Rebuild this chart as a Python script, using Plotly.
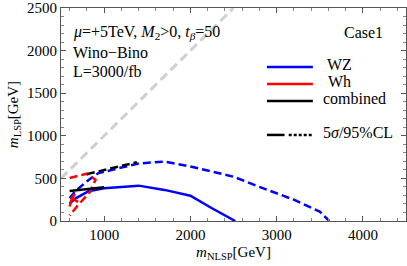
import plotly.graph_objects as go

# ---- data (m_NLSP, m_LSP in GeV) ----
diag_x = [500, 2500]
diag_y = [500, 2500]

wz_5s_x = [600, 660, 820, 1000, 1200, 1400, 1700, 2000, 2250, 2520]
wz_5s_y = [205, 260, 350, 385, 400, 415, 365, 296, 150, 0]

wz_95_x = [600, 660, 820, 930, 1200, 1400, 1700, 2000, 2500, 2800, 3200, 3500, 3610]
wz_95_y = [267, 345, 482, 560, 627, 675, 698, 640, 520, 400, 250, 110, 0]

wh_5s_x = [600, 625, 660, 625, 660, 700]
wh_5s_y = [170, 260, 320, 270, 245, 225]

wh_95_x = [600, 800, 900, 840, 700, 600]
wh_95_y = [505, 555, 485, 345, 190, 65]

comb_5s_x = [600, 1000]
comb_5s_y = [353, 396]

comb_95_x = [800, 1380]
comb_95_y = [550, 690]

x_ticks = [1000, 2000, 3000, 4000]
y_ticks = [0, 500, 1000, 1500, 2000, 2500]

BLUE = "#0000ff"
RED = "#ff0000"
BLACK = "#000000"
DASH = "8px,4px"
FONT = "Liberation Serif, Times New Roman, serif"

fig = go.Figure()
fig.add_trace(go.Scatter(x=diag_x, y=diag_y, mode="lines",
                         line=dict(color="#d0d0d0", width=3, dash="9px,5px")))
fig.add_trace(go.Scatter(x=wz_95_x, y=wz_95_y, mode="lines",
                         line=dict(color=BLUE, width=2.5, dash=DASH)))
fig.add_trace(go.Scatter(x=wz_5s_x, y=wz_5s_y, mode="lines",
                         line=dict(color=BLUE, width=2.5)))
fig.add_trace(go.Scatter(x=wh_95_x, y=wh_95_y, mode="lines",
                         line=dict(color=RED, width=2.5, dash=DASH)))
fig.add_trace(go.Scatter(x=wh_5s_x, y=wh_5s_y, mode="lines",
                         line=dict(color=RED, width=2.5)))
fig.add_trace(go.Scatter(x=comb_95_x, y=comb_95_y, mode="lines",
                         line=dict(color=BLACK, width=2.5, dash=DASH)))
fig.add_trace(go.Scatter(x=comb_5s_x, y=comb_5s_y, mode="lines",
                         line=dict(color=BLACK, width=2.5)))

axis_common = dict(showgrid=False, zeroline=False, showline=True, linecolor="#555",
                   linewidth=1, mirror="allticks", ticks="inside", ticklen=5,
                   tickcolor="#555", tickfont=dict(family=FONT, size=15, color="#000"))
fig.update_xaxes(range=[500, 4500], tickvals=x_ticks,
                 ticktext=[str(v) for v in x_ticks],
                 minor=dict(dtick=200, tick0=0, ticklen=3, ticks="inside", tickcolor="#888"),
                 title=dict(text="<i>m</i><sub>NLSP</sub>[GeV]", standoff=4,
                            font=dict(family=FONT, size=15, color="#000")),
                 **axis_common)
fig.update_yaxes(range=[0, 2500], tickvals=y_ticks,
                 ticktext=[str(v) for v in y_ticks],
                 minor=dict(dtick=100, tick0=0, ticklen=3, ticks="inside", tickcolor="#888"),
                 title=dict(text="<i>m</i><sub>LSP</sub>[GeV]", standoff=4,
                            font=dict(family=FONT, size=15, color="#000")),
                 **axis_common)

def txt(x, y, s, size=16):
    fig.add_annotation(xref="paper", yref="paper", x=x, y=y, text=s, showarrow=False,
                       xanchor="left", yanchor="middle",
                       font=dict(family=FONT, size=size, color="#000"))

txt(0.030, 0.887, "<i>μ</i>=+5TeV, <i>M</i><sub>2</sub>>0, <i>t</i><sub><i>β</i></sub>=50")
txt(0.030, 0.789, "Wino−Bino")
txt(0.030, 0.700, "L=3000/fb")
txt(0.815, 0.887, "Case1")

# manual legend
leg = [(0.723, BLUE, "WZ", 0.765), (0.643, RED, "Wh", 0.768), (0.563, BLACK, "combined", 0.755)]
for yy, col, lab, tx in leg:
    fig.add_shape(type="line", xref="paper", yref="paper", x0=0.597, x1=0.730, y0=yy, y1=yy,
                  line=dict(color=col, width=2.5))
    txt(tx, yy + 0.01, lab)
fig.add_shape(type="line", xref="paper", yref="paper", x0=0.597, x1=0.648, y0=0.404, y1=0.404,
              line=dict(color=BLACK, width=2.5))
fig.add_shape(type="line", xref="paper", yref="paper", x0=0.660, x1=0.730, y0=0.404, y1=0.404,
              line=dict(color=BLACK, width=2.5, dash="3px,2px"))
txt(0.755, 0.414, "5<i>σ</i>/95%CL")

fig.update_layout(width=407, height=266, margin=dict(l=61, r=1, t=8, b=45),
                  font=dict(family=FONT, size=15, color="#000"),
                  plot_bgcolor="white", paper_bgcolor="white", showlegend=False)
fig.write_html("out.html", config={"displayModeBar": False},
               post_script="document.body.style.margin='0px';")
